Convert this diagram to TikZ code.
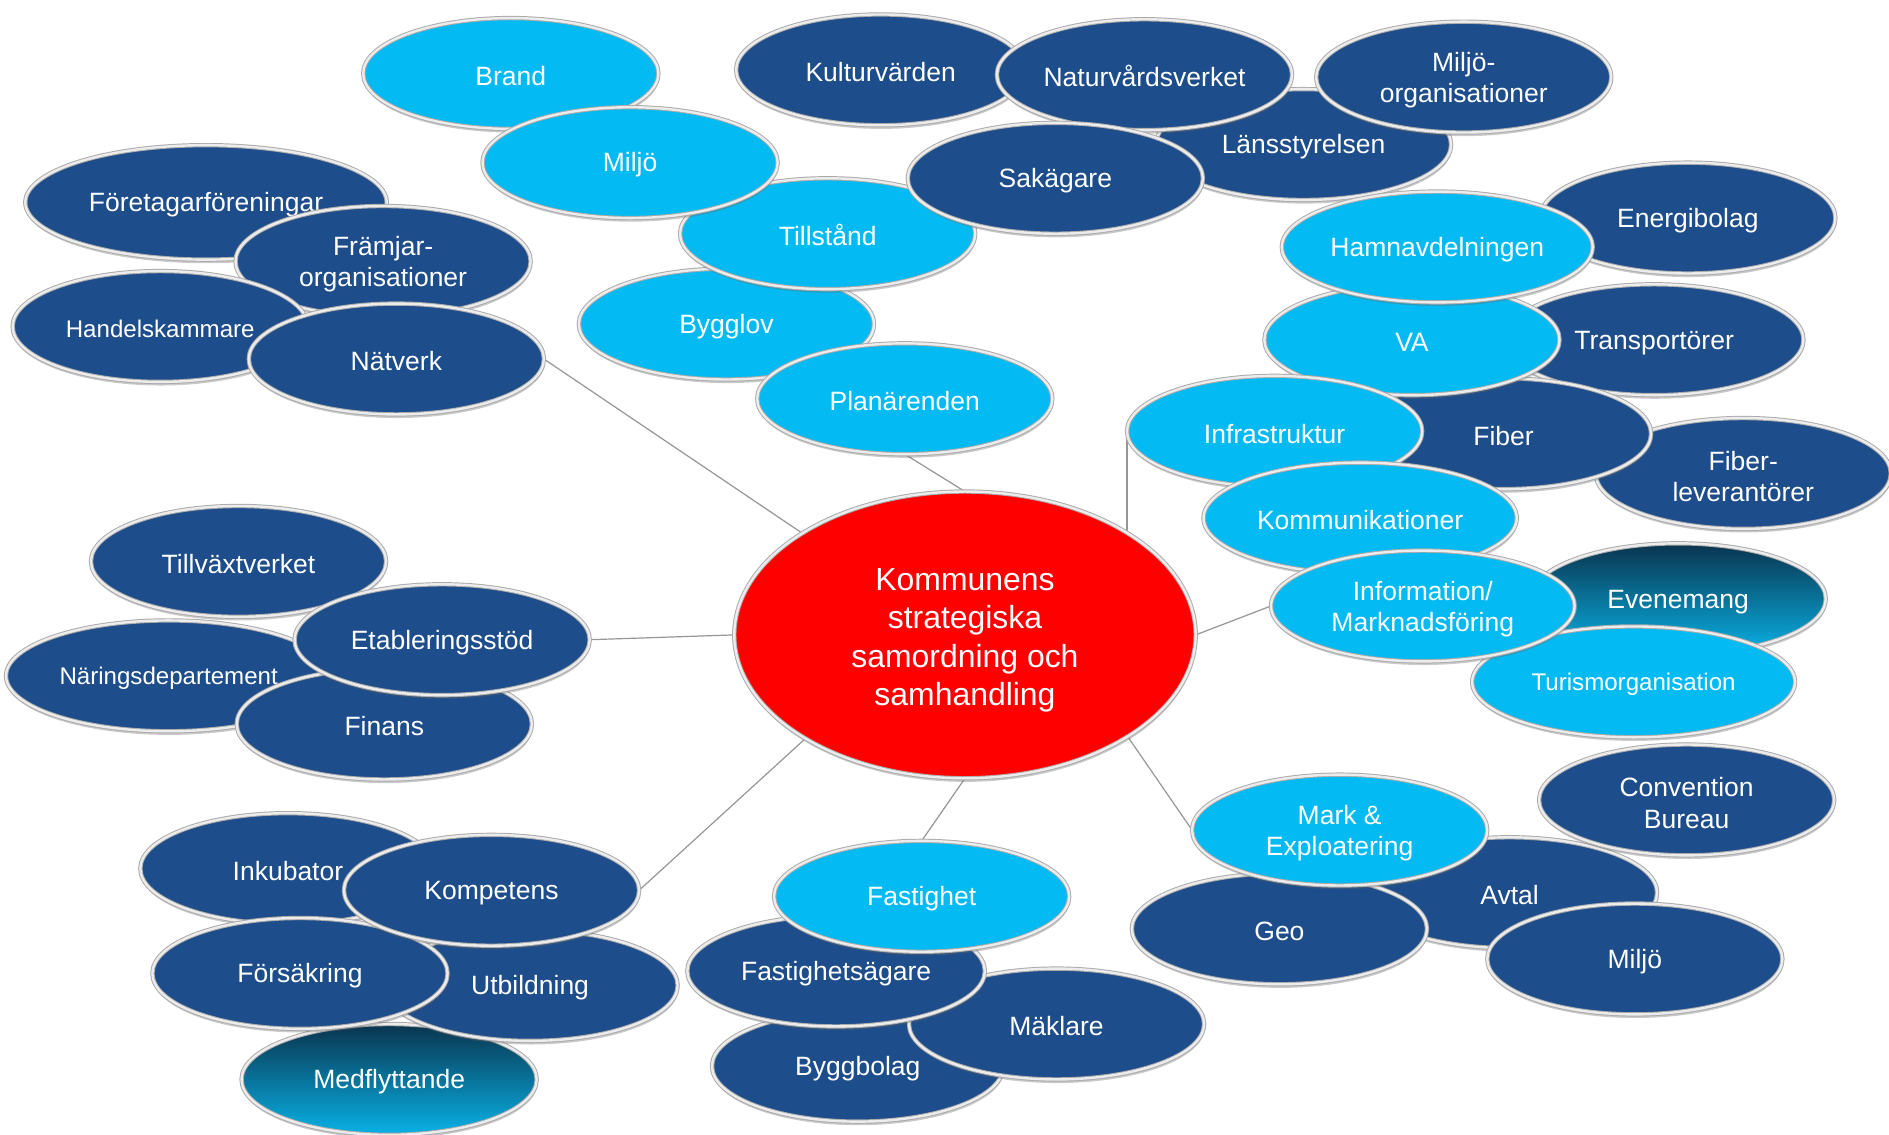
\documentclass[tikz,border=0pt]{standalone}
\usepackage{fontspec}
\setmainfont{Liberation Sans}
\usetikzlibrary{shapes.geometric,shadows,backgrounds}
\definecolor{dkblue}{RGB}{29,77,138}
\definecolor{ltblue}{RGB}{3,187,242}
\definecolor{rimgray}{RGB}{170,170,170}
\definecolor{rimlight}{RGB}{236,236,236}
\definecolor{linegray}{RGB}{150,150,150}
\definecolor{tealtop}{RGB}{10,52,78}
\definecolor{tealbot}{RGB}{8,178,230}
\newcommand{\mystrut}[1]{\rule{0pt}{#1}}
\tikzset{
  oval/.style={ellipse, inner sep=0pt, outer sep=0pt, minimum width=245bp, minimum height=92bp,
    text=white, align=center, font=\fontsize{22bp}{26bp}\selectfont,
    draw=rimgray, line width=0.8bp, double=rimlight, double distance=2bp,
    drop shadow={shadow xshift=0.5bp, shadow yshift=-3bp, opacity=0.35, fill=black!60}},
  dk/.style={oval, fill=dkblue},
  lt/.style={oval, fill=ltblue},
  gr/.style={oval, top color=tealtop, bottom color=tealbot},
  small/.style={font=\fontsize{20bp}{24bp}\selectfont},
  conn/.style={draw=linegray, line width=1bp},
}
\begin{document}
\begin{tikzpicture}[x=1bp,y=-1bp]
\useasboundingbox (0,0) rectangle (1568,942);
% top group
\node[dk] (lans) at (1082,120) {\mystrut{20bp}Länsstyrelsen};
\node[dk, minimum width=240bp] (kultur) at (731,58) {\mystrut{20bp}Kulturvärden};
\node[dk] (natur) at (950,62) {\mystrut{20bp}Naturvårdsverket};
\node[dk] (miljoorg) at (1215,64) {\mystrut{21bp}Miljö-\\organisationer};
\node[lt] (brand) at (424,61) {\mystrut{20bp}Brand};
\node[lt] (bygglov) at (603,269) {\mystrut{20bp}Bygglov};
\node[lt] (tillstand) at (687,194) {\mystrut{20bp}Tillstånd};
\node[dk] (sakagare) at (876,148) {\mystrut{20bp}Sakägare};
\node[lt] (miljo) at (523,135) {\mystrut{20bp}Miljö};
\node[lt] (plan) at (751,331) {\mystrut{20bp}Planärenden};
% left group
\node[dk, minimum width=300bp, minimum height=95bp] (foretag) at (171,168) {\mystrut{20bp}Företagarföreningar};
\node[dk] (framjar) at (318,217) {\mystrut{21bp}Främjar-\\organisationer};
\node[dk, small] (handel) at (133,271) {\mystrut{18bp}Handelskammare};
\node[dk] (natverk) at (329,298) {\mystrut{20bp}Nätverk};
% mid-left group
\node[dk] (tillvaxt) at (198,466) {\mystrut{20bp}Tillväxtverket};
\node[dk, small, minimum width=270bp] (naring) at (140,561) {\mystrut{18bp}Näringsdepartement};
\node[dk] (finans) at (319,601) {\mystrut{20bp}Finans};
\node[dk] (etabl) at (367,531) {\mystrut{20bp}Etableringsstöd};
% center
\node[oval, fill=red, minimum width=383bp, minimum height=238bp, font=\fontsize{26.5bp}{32bp}\selectfont] (kommun) at (801,527)
  {\mystrut{27bp}Kommunens\\strategiska\\samordning och\\samhandling};
% right group
\node[dk, minimum width=248bp] (transp) at (1373,282) {\mystrut{20bp}Transportörer};
\node[dk] (fiberlev) at (1447,393) {\mystrut{21bp}Fiber-\\leverantörer};
\node[dk] (fiber) at (1248,360) {\mystrut{20bp}Fiber};
\node[lt] (va) at (1172,282) {\mystrut{20bp}VA};
\node[dk] (energi) at (1401,181) {\mystrut{20bp}Energibolag};
\node[lt, minimum width=258bp] (hamn) at (1193,205) {\mystrut{20bp}Hamnavdelningen};
\node[lt] (infra) at (1058,358) {\mystrut{20bp}Infrastruktur};
\node[lt, minimum width=260bp] (komm) at (1129,430) {\mystrut{20bp}Kommunikationer};
\node[gr] (evene) at (1393,497) {\mystrut{20bp}Evenemang};
\node[lt, small, minimum width=268bp] (turism) at (1356,566) {\mystrut{18bp}Turismorganisation};
\node[lt, minimum width=252bp] (info) at (1181,503) {\mystrut{21bp}Information/\\Marknadsföring};
% bottom right
\node[dk] (avtal) at (1253,741) {\mystrut{20bp}Avtal};
\node[dk] (conv) at (1400,664) {\mystrut{21bp}Convention\\Bureau};
\node[dk] (geo) at (1062,771) {\mystrut{20bp}Geo};
\node[lt] (mark) at (1112,689) {\mystrut{21bp}Mark \&\\Exploatering};
\node[dk] (miljo2) at (1357,796) {\mystrut{20bp}Miljö};
% bottom center
\node[dk, minimum width=242bp] (bygg) at (712,885) {\mystrut{20bp}Byggbolag};
\node[dk] (maklare) at (877,850) {\mystrut{20bp}Mäklare};
\node[dk, minimum width=247bp] (fastag) at (694,806) {\mystrut{20bp}Fastighetsägare};
\node[lt] (fast) at (765,744) {\mystrut{20bp}Fastighet};
% bottom left
\node[dk] (inkub) at (239,721) {\mystrut{20bp}Inkubator};
\node[gr] (medfl) at (323,896) {\mystrut{20bp}Medflyttande};
\node[dk] (utbild) at (440,818) {\mystrut{20bp}Utbildning};
\node[dk] (forsak) at (249,808) {\mystrut{20bp}Försäkring};
\node[dk] (kompet) at (408,739) {\mystrut{20bp}Kompetens};
% connectors
\begin{scope}[on background layer]
\draw[conn] (natverk.east) -- (kommun.148);
\draw[conn] (plan.south) -- (kommun.north);
\draw[conn] (etabl.east) -- (kommun.west);
\draw[conn] (kompet.east) -- (kommun.213);
\draw[conn] (fast.north) -- (kommun.south);
\draw[conn] (mark.west) -- (kommun.328);
\draw[conn] (info.west) -- (kommun.east);
\draw[conn] (infra.west) -- (infra.west |- kommun.32);
\end{scope}
\end{tikzpicture}
\end{document}
